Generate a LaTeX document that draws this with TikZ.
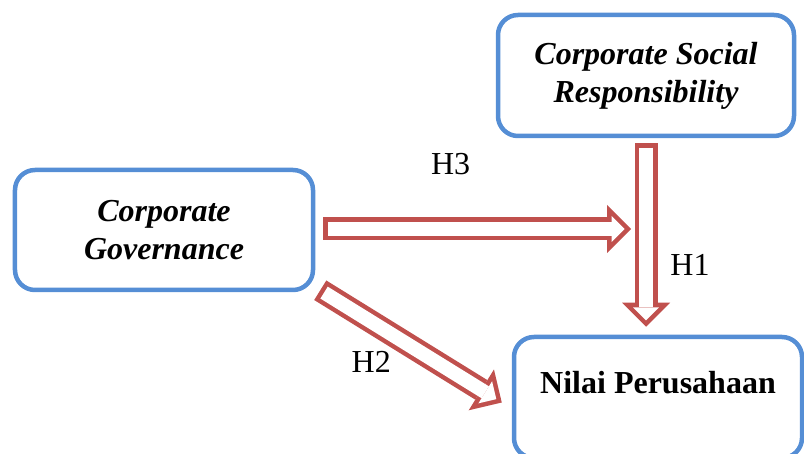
\documentclass[tikz,border=0pt]{standalone}
\usepackage{fontspec}
\setmainfont{Liberation Serif}
\usetikzlibrary{arrows.meta,calc}
\definecolor{boxblue}{RGB}{85,142,213}
\definecolor{hypred}{RGB}{192,80,77}
\tikzset{
  varbox/.style={draw=boxblue, line width=4.5bp, rounded corners=20bp, inner sep=0pt, align=center,
    font=\fontsize{32bp}{38bp}\selectfont\bfseries\itshape},
  hyp/.style={draw=hypred, line width=23bp, -{Triangle[length=24bp,width=48bp,line width=0pt]},
    postaction={draw=white, line width=14bp, shorten <=4.5bp, shorten >=6.4bp,
      -{Triangle[length=13bp,width=26bp,line width=0pt]}}},
  hlabel/.style={inner sep=0pt, font=\fontsize{32bp}{38bp}\selectfont},
}
\begin{document}
\begin{tikzpicture}[x=1bp, y=-1bp]
\useasboundingbox (0,0) rectangle (804,454);
\clip (0,0) rectangle (804,454);


\node[varbox, minimum width=298bp, minimum height=120bp] (cg) at (164,230) {Corporate\\Governance};
\node[varbox, minimum width=296bp, minimum height=121bp] (csr) at (646,75.5) {Corporate Social\\Responsibility};
\node[varbox, font=\fontsize{32bp}{38bp}\selectfont\bfseries, minimum width=288bp, minimum height=121bp,
  text height=22bp, text depth=30bp] (np) at (658,397.5) {Nilai Perusahaan};


\coordinate (h1s) at ($(csr.south)+(0,5)$);
\coordinate (h1e) at ($(h1s |- np.north)+(0,-8)$);
\coordinate (h3s) at ($(cg.east)+(8,-1)$);
\coordinate (h3e) at ($(h1s |- cg.east)+(-15,-1)$);
\coordinate (h2s) at ($(cg.south east)+(5,-2)$);
\coordinate (h2e) at ($(np.west)+(-10,5)$);


\draw[hyp] (h1s) -- (h1e);
\draw[hyp] (h3s) -- (h3e);
\draw[hyp] (h2s) -- (h2e);


\node[hlabel] (lh1) at ($(h1s)!.663!(h1e)+(44,0)$) {H1};
\node[hlabel] (lh2) at ($(h2s)!.38!(h2e)+(-18,29)$) {H2};
\node[hlabel] (lh3) at ($(h3s)!.414!(h3e)+(0,-65)$) {H3};

\end{tikzpicture}
\end{document}
